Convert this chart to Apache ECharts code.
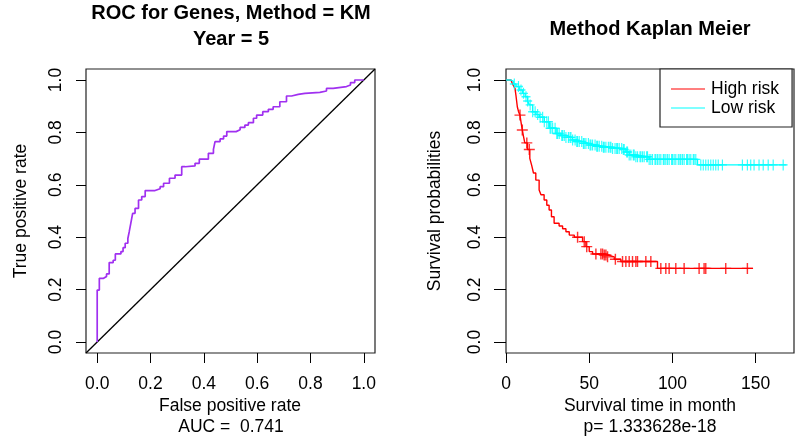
<!DOCTYPE html>
<html>
<head>
<meta charset="utf-8">
<script src="https://cdn.jsdelivr.net/npm/echarts@6/dist/echarts.min.js"></script>
<style>html,body{margin:0;padding:0;background:#fff;}#c{width:800px;height:445px;}</style>
</head>
<body>
<div id="c"></div>
<script>
// ---- ROC data ----
var rocFpr = [0,0,0.008,0.024,0.035,0.045,0.06,0.068,0.089,0.097,0.105,0.115,0.12,0.126,0.133,0.142,0.155,0.167,0.18,0.217,0.236,0.249,0.271,0.292,0.317,0.33,0.367,0.383,0.417,0.436,0.442,0.461,0.474,0.486,0.521,0.536,0.554,0.567,0.586,0.598,0.621,0.642,0.66,0.685,0.71,0.729,0.754,0.779,0.835,0.86,0.885,0.935,0.95,0.966,1.0];
var rocTpr = [0,0.198,0.243,0.25,0.26,0.303,0.312,0.336,0.345,0.36,0.377,0.395,0.42,0.453,0.491,0.51,0.542,0.555,0.578,0.585,0.593,0.606,0.625,0.637,0.669,0.672,0.682,0.698,0.72,0.735,0.765,0.775,0.786,0.803,0.81,0.819,0.828,0.837,0.854,0.866,0.879,0.888,0.898,0.917,0.939,0.945,0.949,0.953,0.958,0.968,0.975,0.981,0.99,1.0,1.0];
var rocTicks = [0,0.2,0.4,0.6,0.8,1.0];
var diagX = [-0.042,1.042];
var diagY = [-0.042,1.042];

// ---- Kaplan-Meier data ----
var highTime = [0,3,3.8,4.5,5.4,6,6.8,7.5,8.4,9,9.8,10.5,11.3,12.9,14.3,15.5,16.5,17.9,19.9,21,22.9,24.5,25.9,27.3,28.9,31.9,34,36,38,41,46,48,50,52,59,61,65,69,91,148.4];
var highSurv = [1,0.995,0.987,0.978,0.968,0.94,0.898,0.88,0.866,0.84,0.809,0.785,0.76,0.735,0.701,0.672,0.645,0.618,0.58,0.562,0.542,0.522,0.504,0.478,0.453,0.443,0.432,0.421,0.408,0.4,0.383,0.364,0.345,0.336,0.332,0.325,0.316,0.307,0.281,0.281];
var highCensor = [8.4,9.8,12.5,14,43,47,48.5,54,57,58,59,60,61,65.7,70,72,74,76,78,79,84,87,93,96,98,102,107,116,119,120,132,145];

var lowTime = [0,3,4.5,6,8,10,11.5,13,14,16,18,20,23,26,30,33,36,40,42,46,50,54,58,64,70,72,74,78,86,115,168.5];
var lowSurv = [1,0.995,0.985,0.975,0.962,0.949,0.936,0.92,0.905,0.879,0.868,0.858,0.841,0.816,0.796,0.788,0.781,0.771,0.765,0.758,0.752,0.747,0.743,0.739,0.735,0.725,0.714,0.707,0.697,0.676,0.676];
var lowCensor = [5,7.5,9,10.5,12,13,14.5,16,17.5,19,20.5,22,23,24.5,25.5,27,28,29.5,31,32,33.5,35,36,37.5,39,40,41.5,43,44,45.5,47,48,49.5,51,52,53.5,55,56,57.5,59,60,61.5,63,64,65.5,67,68,69.5,71,72.5,74,75,76.5,78,79,80.5,82,83,84.5,86,88,89.5,91,93,94.5,96,98,99.5,101,103.5,104.5,106,108.5,110,111,112.5,114,117,118.5,120,121.5,123,124.5,126,127.5,130,142,145,147,149,152,154.5,157.5,160.5,166.5,
  26.5,30.5,34,38.5,42.5,46.5,50.5,54.5,58.5,62.5,66.5,70.5,73,77,81,85,87,90,92,95,97,100,102,105,107,109,113];
var kmTicks = [0,50,100,150];
var probTicks = [0,0.2,0.4,0.6,0.8,1.0];

function zip(a,b){ return a.map(function(v,i){ return [v,b[i]]; }); }
function survAt(times, surv, t){
  var s = surv[0];
  for (var i=0;i<times.length;i++){ if (times[i] <= t) s = surv[i]; else break; }
  return s;
}
function censorPts(ct, times, surv){ return ct.map(function(t){ return [t, survAt(times,surv,t)]; }); }

var FONT = 'Liberation Sans, Arial, sans-serif';
var plusPath = 'path://M8.7,0h2.6v8.7h8.7v2.6h-8.7v8.7h-2.6v-8.7h-8.7v-2.6h8.7z';

function xAx(idx, min, max, ticks, fmt){
  return {
    type:'value', gridIndex: idx, min:min, max:max,
    axisLine:{show:false, onZero:false},
    splitLine:{show:false},
    axisTick:{show:true, inside:false, length:10, lineStyle:{color:'#000', width:1}, customValues: ticks},
    axisLabel:{show:true, margin:22, color:'#000', fontSize:17.5, fontFamily:FONT, customValues: ticks, formatter: fmt}
  };
}
function yAx(idx, ticks, len, margin){
  return {
    type:'value', gridIndex: idx, min:-0.042, max:1.042,
    axisLine:{show:false, onZero:false},
    splitLine:{show:false},
    axisTick:{show:true, inside:false, length:len, lineStyle:{color:'#000', width:1}, customValues: ticks},
    axisLabel:{show:true, rotate:90, margin:margin, color:'#000', fontSize:17.5, fontFamily:FONT, customValues: ticks,
      formatter: function(v){ return v.toFixed(1); }}
  };
}

var option = {
  animation:false,
  backgroundColor:'#fff',
  grid:[
    {left:86, top:69, width:289, height:284, show:true, borderColor:'#222', borderWidth:1.2, backgroundColor:'transparent'},
    {left:506, top:69, width:288, height:284, show:true, borderColor:'#222', borderWidth:1.2, backgroundColor:'transparent'}
  ],
  xAxis:[
    xAx(0, -0.042, 1.042, rocTicks, function(v){ return v.toFixed(1); }),
    xAx(1, 0, 173, kmTicks, function(v){ return String(Math.round(v)); })
  ],
  yAxis:[
    yAx(0, rocTicks, 10, 21),
    yAx(1, probTicks, 12, 22)
  ],
  legend:{
    data:['High risk','Low risk'],
    orient:'vertical', left:660, top:69,
    padding:[11,13,10,11], itemGap:1,
    itemWidth:34, itemHeight:1.2, icon:'rect',
    borderColor:'#222', borderWidth:1.2, borderRadius:0,
    backgroundColor:'#fff',
    textStyle:{fontSize:17.5, fontFamily:FONT, color:'#000', padding:[0,0,0,1]},
    selectedMode:false
  },
  series:[
    {type:'line', xAxisIndex:0, yAxisIndex:0, data:zip(diagX,diagY), showSymbol:false, silent:true,
      lineStyle:{color:'#000', width:1.3}, z:2},
    {type:'line', xAxisIndex:0, yAxisIndex:0, data:zip(rocFpr,rocTpr), step:'end', showSymbol:false, silent:true,
      lineStyle:{color:'#A030F0', width:1.7}, z:3},
    {name:'High risk', type:'line', xAxisIndex:1, yAxisIndex:1, data:zip(highTime,highSurv), step:'end', showSymbol:false,
      color:'#FF0000', itemStyle:{color:'#FF0000'}, lineStyle:{color:'#FF0000', width:1.4}, z:3},
    {name:'Low risk', type:'line', xAxisIndex:1, yAxisIndex:1, data:zip(lowTime,lowSurv), step:'end', showSymbol:false,
      color:'#00FFFF', itemStyle:{color:'#00FFFF'}, lineStyle:{color:'#00FFFF', width:1.4}, z:3},
    {name:'hc', type:'scatter', xAxisIndex:1, yAxisIndex:1, data:censorPts(highCensor, highTime, highSurv),
      symbol:plusPath, symbolSize:[11,11], itemStyle:{color:'#FF0000'}, silent:true, z:4},
    {name:'lc', type:'scatter', xAxisIndex:1, yAxisIndex:1, data:censorPts(lowCensor, lowTime, lowSurv),
      symbol:plusPath, symbolSize:[9,11], itemStyle:{color:'#00FFFF'}, silent:true, z:4}
  ],
  graphic:[
    {type:'text', x:231, y:13, style:{text:'ROC for Genes, Method = KM', font:'bold 20px '+FONT, fill:'#000', align:'center', verticalAlign:'middle'}},
    {type:'text', x:231, y:39, style:{text:'Year = 5', font:'bold 20px '+FONT, fill:'#000', align:'center', verticalAlign:'middle'}},
    {type:'text', x:650, y:29, style:{text:'Method Kaplan Meier', font:'bold 20px '+FONT, fill:'#000', align:'center', verticalAlign:'middle'}},
    {type:'text', x:230, y:406, style:{text:'False positive rate', font:'17.5px '+FONT, fill:'#000', align:'center', verticalAlign:'middle'}},
    {type:'text', x:231, y:427, style:{text:'AUC =  0.741', font:'17.5px '+FONT, fill:'#000', align:'center', verticalAlign:'middle'}},
    {type:'text', x:650, y:406, style:{text:'Survival time in month', font:'17.5px '+FONT, fill:'#000', align:'center', verticalAlign:'middle'}},
    {type:'text', x:650, y:427, style:{text:'p= 1.333628e-18', font:'17.5px '+FONT, fill:'#000', align:'center', verticalAlign:'middle'}},
    {type:'text', x:21, y:211, rotation:Math.PI/2, style:{text:'True positive rate', font:'17.5px '+FONT, fill:'#000', align:'center', verticalAlign:'middle'}},
    {type:'text', x:435, y:211, rotation:Math.PI/2, style:{text:'Survival probabilities', font:'17.5px '+FONT, fill:'#000', align:'center', verticalAlign:'middle'}}
  ]
};
var chart = echarts.init(document.getElementById('c'), null, {renderer:'canvas'});
chart.setOption(option);
</script>
</body>
</html>
